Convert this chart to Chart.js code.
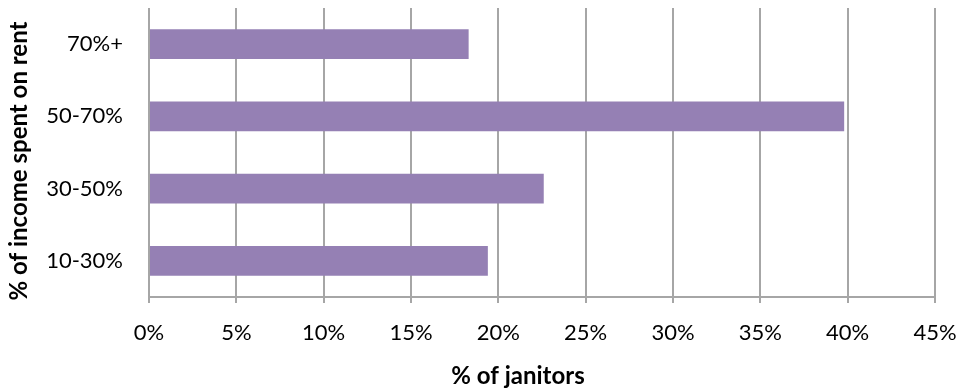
<!DOCTYPE html>
<html>
<head>
<meta charset="utf-8">
<script src="https://cdn.jsdelivr.net/npm/chart.js@4"></script>
<style>
  html, body { margin: 0; padding: 0; background: #fff; }
  #wrap { width: 963px; height: 389px; }
</style>
</head>
<body>
<div id="wrap"><canvas id="chart" width="963" height="389"></canvas></div>
<script>
// rent burden buckets, top to bottom
const categories = ['70%+', '50-70%', '30-50%', '10-30%'];
const janitorShare = [18.3, 39.8, 22.6, 19.4];
const xTicks = [0, 5, 10, 15, 20, 25, 30, 35, 40, 45];

const FONT = 'Lato, "Open Sans", sans-serif';
const GRID = '#a6a6a6';

// axis titles, placed by hand so they sit where the layout wants them
const axisTitles = {
  id: 'axisTitles',
  afterDraw(chart) {
    const ctx = chart.ctx;
    ctx.save();
    ctx.fillStyle = '#000';
    ctx.font = 'bold 24px ' + FONT;
    ctx.textAlign = 'center';
    ctx.textBaseline = 'middle';
    ctx.fillText('% of janitors', 518, 376);
    ctx.translate(19, 161);
    ctx.rotate(-Math.PI / 2);
    ctx.fillText('% of income spent on rent', 0, 0);
    ctx.restore();
  }
};

new Chart(document.getElementById('chart'), {
  type: 'bar',
  data: {
    labels: categories,
    datasets: [{
      data: janitorShare,
      backgroundColor: '#9580b4',
      borderWidth: 0,
      categoryPercentage: 1,
      barPercentage: 0.41
    }]
  },
  plugins: [axisTitles],
  options: {
    indexAxis: 'y',
    responsive: false,
    animation: false,
    layout: { padding: { top: 8, right: 28, left: 0, bottom: 0 } },
    plugins: { legend: { display: false }, tooltip: { enabled: false } },
    scales: {
      x: {
        min: 0, max: 45,
        afterBuildTicks: s => { s.ticks = xTicks.map(v => ({ value: v })); },
        afterFit: s => { s.height = 92; s.paddingLeft = 0; s.paddingRight = 0; },
        grid: { color: GRID, lineWidth: 2, tickLength: 6, drawTicks: true },
        border: { display: true, color: GRID, width: 2 },
        ticks: {
          padding: 17,
          color: '#000',
          font: { family: FONT, size: 22 },
          callback: v => v + '%',
          maxRotation: 0
        }
      },
      y: {
        afterFit: s => { s.width = 149; s.paddingTop = 0; s.paddingBottom = 0; },
        grid: { display: false },
        border: { display: false },
        ticks: {
          padding: 18,
          color: '#000',
          font: { family: FONT, size: 22 }
        }
      }
    }
  }
});
</script>
</body>
</html>
